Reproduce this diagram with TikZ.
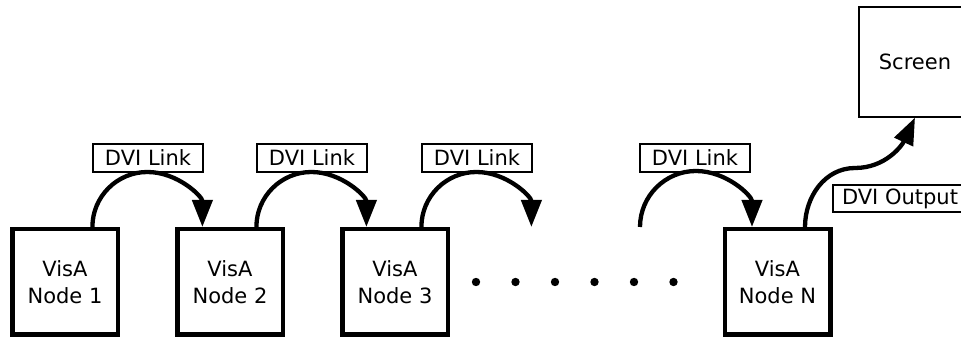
\documentclass[tikz,border=0pt]{standalone}
\usepackage{fontspec}
\setmainfont{DejaVu Sans}
\usetikzlibrary{arrows.meta,calc}
\begin{document}
\begin{tikzpicture}[x=1pt,y=1pt,
  visa/.style={draw,line width=4.5pt,minimum width=105.5pt,minimum height=105.5pt,align=center,inner sep=0pt,font=\fontsize{21}{27}\selectfont},
  thinbox/.style={draw,line width=1.2pt,fill=white,inner sep=0pt,font=\fontsize{21}{24}\selectfont},
  lbl/.style={thinbox,minimum width=110pt,minimum height=28pt},
  link/.style={line width=4.3pt,-{Triangle[length=27pt,width=20pt]}},
  dot/.style={fill=black}]
\useasboundingbox (0,0) rectangle (961,339);
% VisA nodes
\node[visa] (n1) at (65,57) {VisA\\Node 1};
\node[visa] (n2) at (230,57) {VisA\\Node 2};
\node[visa] (n3) at (395,57) {VisA\\Node 3};
\node[visa] (nN) at (777.5,57) {VisA\\Node N};
% Screen
\node[thinbox,minimum width=112pt,minimum height=110pt] (scr) at (915,277) {Screen};
% link labels
\node[lbl] (l1) at (148,181) {DVI Link};
\node[lbl] (l2) at (312,181) {DVI Link};
\node[lbl] (l3) at (477,181) {DVI Link};
\node[lbl] (l4) at (695,181) {DVI Link};
\node[thinbox,minimum width=134pt,minimum height=27pt] (lo) at (900,140.5) {DVI Output};
% dots
\foreach \i in {0,...,5} \fill[dot] (476+39.5*\i,57) circle[radius=4.2pt];
% link arcs
\draw[link] (n1.north -| l1.west) arc[start angle=180,end angle=0,radius=55pt];
\draw[link] (n2.north -| l2.west) arc[start angle=180,end angle=0,radius=55pt];
\draw[link] (n3.north -| l3.west) arc[start angle=180,end angle=0,radius=55pt];
\coordinate (c4) at ($(nN.north)+(-137.5,0)$);
\draw[link] (c4) arc[start angle=180,end angle=0,radius=56pt];
% output
\coordinate (o) at ($(nN.north)+(27.5,0)$);
\draw[link] (o) to[out=90,in=180] (855,171) to[out=0,in=-115] (scr.south);
\end{tikzpicture}
\end{document}
